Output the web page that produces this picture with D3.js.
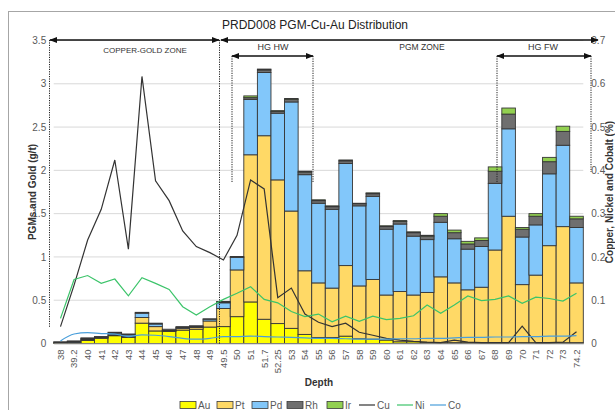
<!DOCTYPE html>
<html>
<head>
<meta charset="utf-8">
<script src="https://cdn.jsdelivr.net/npm/d3@7"></script>
<style>
  html, body { margin: 0; padding: 0; background: #fff; }
  svg { display: block; font-family: "Liberation Sans", Arial, sans-serif; }
</style>
</head>
<body>
<svg id="chart" width="615" height="410"></svg>
<script>
// Drill hole PRDD008 – sample depths (m)
const depths = ["38","39.2","40","41","42","43","44","45","46","47","48","49","49.5","50","51","51.7","52.25","53","54","55","56","57","58","59","60","61","62","63","64","65","66","67","68","69","70","71","72","73","74.2"];

// Precious metal grades (g/t), stacked
const au = [0.01,0.01,0.035,0.06,0.09,0.07,0.235,0.145,0.14,0.155,0.165,0.19,0.195,0.31,0.48,0.28,0.23,0.175,0.105,0.07,0.07,0.085,0.055,0.05,0.04,0.02,0.02,0.01,0.01,0.01,0.01,0.01,0.01,0.01,0.01,0.01,0.01,0.01,0.01];
const pt = [0,0.005,0.01,0.01,0.01,0.01,0.065,0.05,0.005,0.02,0.02,0.07,0.21,0.54,1.70,2.12,1.66,1.355,0.735,0.63,0.57,0.815,0.61,0.69,0.52,0.58,0.54,0.58,0.76,0.69,0.61,0.64,1.07,1.46,0.67,0.78,1.12,1.34,0.69];
const pd = [0,0.005,0.01,0.005,0.02,0.02,0.05,0.03,0.005,0.01,0.01,0.02,0.065,0.145,0.64,0.73,0.77,1.26,1.11,0.92,0.91,1.18,0.925,0.96,0.76,0.78,0.68,0.61,0.63,0.51,0.47,0.47,0.77,1.01,0.55,0.58,0.83,0.94,0.64];
const rh = [0.01,0.01,0.01,0.005,0.01,0.01,0.01,0.01,0.015,0.01,0.01,0.005,0.01,0.01,0.02,0.03,0.02,0.03,0.03,0.03,0.03,0.03,0.025,0.03,0.03,0.03,0.04,0.04,0.07,0.07,0.06,0.07,0.14,0.17,0.09,0.10,0.14,0.16,0.10];
const ir = [0,0,0,0,0,0,0,0,0,0,0,0,0.005,0,0.02,0.01,0.01,0.01,0.01,0.01,0.01,0.01,0.005,0.01,0.01,0.01,0.01,0.01,0.03,0.03,0.03,0.03,0.05,0.07,0.02,0.03,0.05,0.06,0.03];

// Base metal grades (%), right axis
const cu = [0.039,0.135,0.239,0.31,0.424,0.218,0.617,0.376,0.33,0.26,0.224,0.21,0.193,0.25,0.378,0.357,0.106,0.128,0.068,0.049,0.039,0.047,0.026,0.019,0.012,0.008,0.005,0.003,0.002,0.008,0.003,0.002,0.002,0.002,0.04,0.002,0.002,0.003,0.027];
const ni = [0.058,0.148,0.157,0.139,0.149,0.11,0.152,0.139,0.125,0.085,0.066,0.085,0.102,0.116,0.131,0.102,0.094,0.074,0.062,0.068,0.05,0.063,0.051,0.063,0.055,0.058,0.064,0.089,0.07,0.089,0.11,0.099,0.102,0.11,0.093,0.107,0.104,0.098,0.116];
const co = [0.006,0.022,0.025,0.023,0.022,0.016,0.02,0.019,0.016,0.012,0.01,0.012,0.016,0.016,0.017,0.016,0.015,0.014,0.013,0.012,0.012,0.011,0.01,0.01,0.01,0.011,0.011,0.012,0.012,0.013,0.014,0.014,0.015,0.015,0.016,0.016,0.017,0.017,0.018];

const leftTicks = [0,0.5,1,1.5,2,2.5,3,3.5];
const rightTicks = [0,0.1,0.2,0.3,0.4,0.5,0.6,0.7];

const metals = [
  {key:"Au", values: au, color:"#FFFF00"},
  {key:"Pt", values: pt, color:"#FFD966"},
  {key:"Pd", values: pd, color:"#82C7FA"},
  {key:"Rh", values: rh, color:"#6F6F6F"},
  {key:"Ir", values: ir, color:"#92D050"}
];
const lines = [
  {key:"Cu", values: cu, color:"#333333", curve: d3.curveLinear},
  {key:"Ni", values: ni, color:"#3CC46A", curve: d3.curveLinear},
  {key:"Co", values: co, color:"#4A9FDB", curve: d3.curveMonotoneX}
];

const svg = d3.select("#chart");
const L = 53.7, R = 583.3, T = 40.5, B = 343.5;

const x = d3.scaleBand().domain(depths).range([L, R]).padding(0);
const yL = d3.scaleLinear().domain([0, 3.5]).range([B, T]);
const yR = d3.scaleLinear().domain([0, 0.7]).range([B, T]);

// outer frame
svg.append("rect").attr("x", 8.5).attr("y", 11.5).attr("width", 700).attr("height", 500)
  .attr("fill", "none").attr("stroke", "#a6a6a6").attr("stroke-width", 1);

// title
svg.append("text").attr("x", 315).attr("y", 29).attr("text-anchor", "middle")
  .attr("font-size", 12).attr("fill", "#222").text("PRDD008 PGM-Cu-Au Distribution");

// gridlines
svg.append("g").selectAll("line").data(leftTicks.slice(1)).join("line")
  .attr("x1", L).attr("x2", R).attr("y1", d => yL(d)).attr("y2", d => yL(d))
  .attr("stroke", "#d9d9d9").attr("stroke-width", 1);

// left axis
const gL = svg.append("g").attr("transform", `translate(${L},0)`)
  .call(d3.axisLeft(yL).tickValues(leftTicks).tickFormat(d3.format("")).tickSize(0).tickPadding(7.5));
gL.select(".domain").remove();
gL.selectAll("text").attr("font-size", 10).attr("fill", "#595959").attr("font-family", "Liberation Sans, Arial");

// right axis
const gR = svg.append("g").attr("transform", `translate(${R},0)`)
  .call(d3.axisRight(yR).tickValues(rightTicks).tickFormat(d3.format("")).tickSize(0).tickPadding(8));
gR.select(".domain").remove();
gR.selectAll("text").attr("font-size", 10).attr("fill", "#595959").attr("font-family", "Liberation Sans, Arial");

// stacked bars
const rows = depths.map((d, i) => {
  const r = {depth: d};
  metals.forEach(m => r[m.key] = m.values[i]);
  return r;
});
const stack = d3.stack().keys(metals.map(m => m.key))(rows);
svg.append("g").selectAll("g").data(stack).join("g")
  .attr("fill", (s, i) => metals[i].color)
  .selectAll("rect").data(s => s).join("rect")
  .attr("x", d => x(d.data.depth))
  .attr("width", x.bandwidth())
  .attr("y", d => yL(d[1]))
  .attr("height", d => yL(d[0]) - yL(d[1]))
  .attr("stroke", "#363636").attr("stroke-width", 0.9);

// bottom axis
const gX = svg.append("g").attr("transform", `translate(0,${B})`)
  .call(d3.axisBottom(x).tickSize(0).tickPadding(0));
gX.select(".domain").attr("stroke", "#bfbfbf");
gX.selectAll("text")
  .attr("font-size", 9.5).attr("fill", "#595959").attr("font-family", "Liberation Sans, Arial")
  .attr("text-anchor", "end").attr("dy", "0.35em")
  .attr("transform", "translate(0,6) rotate(-90)")
  .attr("y", 0).attr("x", 0);

// base metal lines
lines.forEach(s => {
  const gen = d3.line().x((d, i) => x(depths[i]) + x.bandwidth() / 2).y(d => yR(d)).curve(s.curve);
  svg.append("path").datum(s.values).attr("d", gen)
    .attr("fill", "none").attr("stroke", s.color).attr("stroke-width", 1.2);
});

// axis titles
svg.append("text").attr("transform", `translate(36,${(T + B) / 2}) rotate(-90)`)
  .attr("text-anchor", "middle").attr("font-size", 10).attr("font-weight", "bold").attr("fill", "#333")
  .text("PGMs and Gold (g/t)");
svg.append("text").attr("transform", `translate(613,${(T + B) / 2}) rotate(-90)`)
  .attr("text-anchor", "middle").attr("font-size", 10).attr("font-weight", "bold").attr("fill", "#333")
  .text("Copper, Nickel and Cobalt (%)");
svg.append("text").attr("x", 319).attr("y", 386).attr("text-anchor", "middle")
  .attr("font-size", 10).attr("font-weight", "bold").attr("fill", "#333").text("Depth");

// zone annotations
const defs = svg.append("defs");
defs.append("marker").attr("id", "ah").attr("viewBox", "0 0 10 10").attr("refX", 9).attr("refY", 5)
  .attr("markerWidth", 7).attr("markerHeight", 6).attr("orient", "auto-start-reverse")
  .append("path").attr("d", "M0,1 L10,5 L0,9 Z").attr("fill", "#111");

const ann = svg.append("g");
function arrow(x1, x2, y) {
  ann.append("line").attr("x1", x1).attr("x2", x2).attr("y1", y).attr("y2", y)
    .attr("stroke", "#111").attr("stroke-width", 1.3)
    .attr("marker-start", "url(#ah)").attr("marker-end", "url(#ah)");
}
function dotted(xp, y1, y2) {
  ann.append("line").attr("x1", xp).attr("x2", xp).attr("y1", y1).attr("y2", y2)
    .attr("stroke", "#222").attr("stroke-width", 1).attr("stroke-dasharray", "1.2,1.2");
}
function label(t, xp, yp, fs) {
  ann.append("text").attr("x", xp).attr("y", yp).attr("text-anchor", "middle")
    .attr("font-size", fs).attr("fill", "#333").text(t);
}
dotted(49.5, 40, 328);
dotted(219.5, 40, 344);
arrow(50, 219, 40);
arrow(221, 598, 40);
label("COPPER-GOLD ZONE", 145, 53, 8);
label("PGM ZONE", 422, 50, 8.5);

dotted(232, 56, 183);
dotted(313, 56, 183);
arrow(232, 313, 56);
label("HG HW", 273, 50, 9);

dotted(497, 56, 182);
dotted(591, 56, 172);
arrow(497, 591, 56);
label("HG FW", 543, 50, 9);

// legend
const lg = svg.append("g").attr("transform", "translate(0,405)");
const legendItems = metals.map(m => ({key: m.key, color: m.color, type: "bar"}))
  .concat(lines.map(l => ({key: l.key, color: l.color, type: "line"})));
const legendX = [180, 217, 252, 287, 327, 359, 397, 430];
legendItems.forEach((it, i) => {
  const gx = legendX[i];
  if (it.type === "bar") {
    lg.append("rect").attr("x", gx).attr("y", -3.5).attr("width", 16).attr("height", 7)
      .attr("fill", it.color).attr("stroke", "#3a3a3a").attr("stroke-width", 0.8);
  } else {
    lg.append("line").attr("x1", gx).attr("x2", gx + 16).attr("y1", 0).attr("y2", 0)
      .attr("stroke", it.color).attr("stroke-width", 1.2);
  }
  lg.append("text").attr("x", gx + 18).attr("y", 0).attr("dy", "0.35em")
    .attr("font-size", 10).attr("fill", "#595959").text(it.key);
});
</script>
</body>
</html>
